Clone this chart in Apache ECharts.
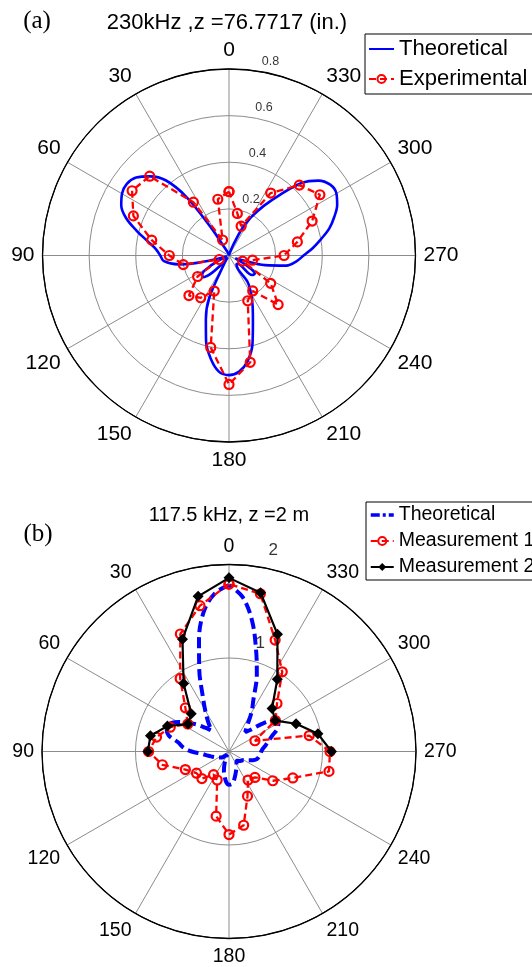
<!DOCTYPE html>
<html><head><meta charset="utf-8">
<script src="https://cdn.jsdelivr.net/npm/echarts@6/dist/echarts.min.js"></script>
<style>html,body{margin:0;padding:0;background:#fff}#c{width:532px;height:967px}</style>
</head><body><div id="c"></div>
<script>
// ---------------- data ----------------
const radialTicksA = [0.2, 0.4, 0.6, 0.8];
const radialTicksB = [1, 2];

// measured angles (deg) for the experimental / measurement points
const measAngles = [0, 11.25, 22.5, 33.75, 45, 56.25, 67.5, 78.75, 90, 101.25, 112.5, 123.75,
  135, 146.25, 157.5, 168.75, 180, 191.25, 202.5, 213.75, 225, 236.25, 247.5, 258.75,
  270, 281.25, 292.5, 303.75, 315, 326.25, 337.5, 348.75];

// (a) 230 kHz
const experimentalA = [0.274, 0.246, 0.072, 0.275, 0.481, 0.500, 0.444, 0.338, 0.256, 0.200, 0.045, 0.162,
  0.243, 0.218, 0.165, 0.402, 0.553, 0.467, 0.210, 0.183, 0.298, 0.215, 0.063, 0.103,
  0.236, 0.299, 0.386, 0.469, 0.427, 0.322, 0.136, 0.184];

const theoAnglesA = [0, 10, 20, 25, 30, 33, 36, 40, 45, 50, 55, 60, 65, 70, 75, 80, 85, 90, 95, 100, 103, 106,
  110, 115, 120, 125, 130, 135, 140, 145, 150, 155, 160, 165, 170, 175, 180, 185, 190, 195, 200, 205,
  210, 215, 220, 225, 230, 235, 240, 245, 250, 255, 260, 265, 270, 275, 280, 285, 290, 295, 300, 305,
  310, 315, 320, 325, 330, 334, 338, 345, 350, 360];
const theoreticalA = [0.0, 0.0, 0.01, 0.02, 0.05, 0.15, 0.31, 0.42, 0.48, 0.52, 0.535, 0.53, 0.51, 0.47, 0.41, 0.355, 0.315, 0.295, 0.28, 0.22, 0.14, 0.05,
  0.01, 0.04, 0.10, 0.14, 0.145, 0.11, 0.05, 0.01, 0.04, 0.20, 0.29, 0.38, 0.45, 0.50, 0.513, 0.50, 0.46, 0.39, 0.30, 0.24,
  0.19, 0.14, 0.05, 0.05, 0.13, 0.135, 0.09, 0.03, 0.05, 0.16, 0.25, 0.29, 0.32, 0.36, 0.40, 0.445, 0.48, 0.512, 0.532, 0.53,
  0.50, 0.44, 0.34, 0.26, 0.19, 0.13, 0.05, 0.01, 0.0, 0.0];

// (b) 117.5 kHz
const theoAnglesB = [0, 5, 10, 15, 20, 25, 30, 35, 40, 45, 50, 55, 60, 65, 70, 75, 80, 85, 90, 95, 100, 105, 110, 115, 120,
  130, 140, 150, 155, 160, 165, 170, 175, 180, 185, 190, 195, 200, 205, 210, 215, 220, 225, 230, 235,
  240, 245, 250, 255, 260, 265, 270, 275, 280, 285, 290, 295, 300, 305, 310, 315, 320, 325, 330, 335,
  340, 345, 350, 355, 360];
const theoreticalB = [1.78, 1.70, 1.53, 1.24, 0.93, 0.67, 0.51, 0.39, 0.29, 0.36, 0.45, 0.53, 0.63, 0.70, 0.71, 0.67, 0.55, 0.49, 0.40, 0.29, 0.24, 0.20, 0.17, 0.15, 0.13,
  0.10, 0.06, 0.04, 0.07, 0.14, 0.21, 0.27, 0.33, 0.355, 0.35, 0.31, 0.26, 0.22, 0.19, 0.16, 0.14, 0.13, 0.14, 0.16, 0.17,
  0.18, 0.22, 0.27, 0.31, 0.325, 0.335, 0.345, 0.365, 0.40, 0.44, 0.49, 0.57, 0.61, 0.57, 0.46, 0.33, 0.27, 0.34, 0.48, 0.62,
  0.87, 1.12, 1.42, 1.66, 1.78];

const measurement1B = [1.79, 1.59, 1.36, 0.94, 0.66, 0.53, 0.68, 0.79, 0.86, 0.727, 0.505, 0.418,
  0.41, 0.297, 0.33, 0.705, 0.888, 0.804, 0.517, 0.367, 0.392, 0.563, 0.739, 1.09,
  1.08, 0.875, 0.30, 0.597, 0.726, 1.025, 1.29, 1.72];

const meas2Angles = [270, 281.25, 292.5, 303.75, 315, 326.25, 337.5, 348.75, 0, 11.25, 22.5, 33.75, 45, 56.25, 67.5, 78.75, 90];
const measurement2B = [1.096, 0.97, 0.776, 0.595, 0.651, 0.93, 1.356, 1.731, 1.857, 1.692, 1.30, 0.874, 0.571, 0.528, 0.713, 0.857, 0.868];

// ---------------- helpers ----------------
const pairs = (r, a) => r.map((v, i) => [v, a[i]]);
const closed = arr => arr.concat([arr[0]]);
const FONT = "'Liberation Sans', Arial, Helvetica, sans-serif";
const SERIF = "'Liberation Serif', 'Times New Roman', serif";
const GRID = '#8c8c8c';

function angleAxis(idx, fs) {
  return {
    polarIndex: idx, type: 'value', min: 0, max: 360, interval: 30,
    startAngle: 90, clockwise: false,
    axisLine: { show: true, lineStyle: { color: '#000', width: 1.3 } },
    axisTick: { show: false },
    axisLabel: { color: '#000', fontSize: fs, fontFamily: FONT, margin: 8,
      formatter: v => (v >= 360 ? '' : String(v)) },
    splitLine: { show: true, lineStyle: { color: GRID, width: 1 } }
  };
}
function radiusAxis(idx, max, step, colors) {
  return {
    polarIndex: idx, type: 'value', min: 0, max: max, interval: step,
    axisLine: { show: false }, axisTick: { show: false }, axisLabel: { show: false },
    splitLine: { show: true, lineStyle: { color: colors, width: 1 } }
  };
}
function tickLabelSeries(idx, ticks, step, fs, ang, off) {
  return {
    type: 'scatter', coordinateSystem: 'polar', polarIndex: idx, silent: true, clip: false,
    symbolSize: 1, itemStyle: { color: 'rgba(0,0,0,0)' }, z: 10,
    data: ticks.map(t => [t + step / 20, ang]),
    label: { show: true, position: [0, 0], align: 'left', verticalAlign: 'bottom', offset: off,
      color: '#000', fontSize: fs, fontFamily: FONT,
      formatter: p => '  ' + ticks[p.dataIndex] }
  };
}

const chart = echarts.init(document.getElementById('c'), null, { renderer: 'canvas' });
chart.setOption({
  animation: false,
  backgroundColor: '#fff',
  polar: [
    { center: [229, 255.5], radius: 186.5 },
    { center: [229, 751.5], radius: 187 }
  ],
  angleAxis: [angleAxis(0, 21), angleAxis(1, 19.5)],
  radiusAxis: [
    radiusAxis(0, 0.8, 0.2, [GRID, GRID, GRID, GRID, '#000']),
    radiusAxis(1, 2, 1, [GRID, GRID, '#000'])
  ],
  graphic: [
    { type: 'text', x: 227, y: 23, style: { text: '230kHz ,z =76.7717 (in.)', font: '22px ' + FONT, fill: '#000', align: 'center', verticalAlign: 'middle' } },
    { type: 'text', x: 37, y: 21, style: { text: '(a)', font: '25px ' + SERIF, fill: '#000', align: 'center', verticalAlign: 'middle' } },
    { type: 'text', x: 229, y: 515, style: { text: '117.5 kHz, z =2 m', font: '20px ' + FONT, fill: '#000', align: 'center', verticalAlign: 'middle' } },
    { type: 'text', x: 38, y: 534, style: { text: '(b)', font: '25px ' + SERIF, fill: '#000', align: 'center', verticalAlign: 'middle' } }
  ],
  legend: [
    {
      data: ['Theoretical', 'Experimental'], orient: 'vertical', left: 365, top: 34,
      backgroundColor: '#fff', borderColor: '#000', borderWidth: 1, borderRadius: 0,
      padding: [4, 6, 4, 3], itemGap: 8, itemWidth: 25, itemHeight: 10, selectedMode: false,
      textStyle: { fontSize: 22, color: '#000', fontFamily: FONT }
    },
    {
      data: [{ name: 'Theoretical ', lineStyle: { width: 3.5, type: [9, 3, 3, 3] } }, 'Measurement 1', 'Measurement 2'],
      orient: 'vertical', left: 366, top: 502,
      backgroundColor: '#fff', borderColor: '#000', borderWidth: 1, borderRadius: 0,
      padding: [3, 6, 3, 3], itemGap: 6, itemWidth: 23, itemHeight: 10, selectedMode: false,
      formatter: n => n.trim(),
      textStyle: { fontSize: 19.5, color: '#000', fontFamily: FONT }
    }
  ],
  series: [
    {
      name: 'Theoretical', type: 'line', coordinateSystem: 'polar', polarIndex: 0,
      data: pairs(theoreticalA, theoAnglesA), smooth: 0.35, showSymbol: false, symbol: 'circle',
      itemStyle: { color: 'rgba(0,0,0,0)' },
      lineStyle: { color: '#0000ff', width: 2.6 }, z: 3
    },
    {
      name: 'Experimental', type: 'line', coordinateSystem: 'polar', polarIndex: 0,
      data: closed(pairs(experimentalA, measAngles)), symbol: 'circle', symbolSize: 9,
      itemStyle: { color: 'rgba(255,255,255,0)', borderColor: '#ff0000', borderWidth: 2.2 },
      lineStyle: { color: '#ff0000', width: 2.3, type: [7, 4] }, z: 4
    },
    {
      name: 'Theoretical ', type: 'line', coordinateSystem: 'polar', polarIndex: 1,
      data: pairs(theoreticalB, theoAnglesB), smooth: 0.35, showSymbol: false, symbol: 'circle',
      itemStyle: { color: 'rgba(0,0,0,0)' },
      lineStyle: { color: '#0000ff', width: 4, type: [11, 5] }, z: 3
    },
    {
      name: 'Measurement 1', type: 'line', coordinateSystem: 'polar', polarIndex: 1,
      data: closed(pairs(measurement1B, measAngles)), symbol: 'circle', symbolSize: 9,
      itemStyle: { color: 'rgba(255,255,255,0)', borderColor: '#ff0000', borderWidth: 2.2 },
      lineStyle: { color: '#ff0000', width: 2.3, type: [7, 4] }, z: 4
    },
    {
      name: 'Measurement 2', type: 'line', coordinateSystem: 'polar', polarIndex: 1,
      data: pairs(measurement2B, meas2Angles), symbol: 'diamond', symbolSize: 11,
      itemStyle: { color: '#000' },
      lineStyle: { color: '#000', width: 2.2 }, z: 5
    },
    tickLabelSeries(0, radialTicksA, 0.2, 12.5, 352, [0, 0]),
    tickLabelSeries(1, radialTicksB, 1, 17, 352, [4, -2])
  ]
});
</script></body></html>
